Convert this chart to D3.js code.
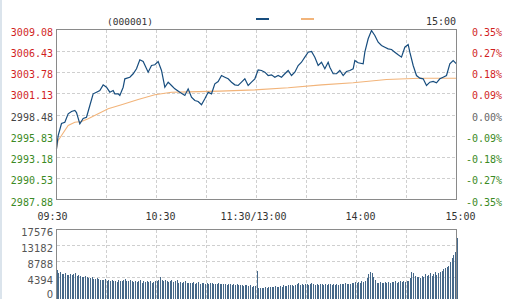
<!DOCTYPE html>
<meta charset="utf-8">
<style>
  body { margin: 0; background: #fff; }
  svg { display: block; }
  .grid line { stroke: #cfcfcf; stroke-dasharray: 3,2; shape-rendering: crispEdges; }
  .frame { fill: none; stroke: #8a8a8a; shape-rendering: crispEdges; }
  .lbl { font-family: "DejaVu Sans Mono", monospace; font-size: 10px; }
</style>
<body>
<svg width="506" height="299"></svg>
<script src="https://cdn.jsdelivr.net/npm/d3@7"></script>
<script>
  // price line, sampled by minute since 09:30 (lunch break removed)
  const priceMinutes = [0,1,3,5,7,9,11,12,14,16,18,20,22,24,26,28,30,32,34,35,37,38,40,41,44,46,48,50,52,55,57,59,61,63,65,67,69,71,74,77,79,
    81,83,85,87,89,91,93,95,97,99,101,103,105,107,109,111,113,115,117,119,121,123,125,127,129,131,133,135,137,139,141,143,145,147,149,151,153,155,157,159,
    161,163,164,166,168,170,172,174,176,178,179,181,184,185,187,189,191,193,195,197,199,201,203,205,207,209,211,212,214,216,218,220,222,224,226,228,230,232,234,236,238,240];
  const prices = [2994.20,2995.86,2997.36,2997.52,2998.57,2998.85,2998.98,2998.73,2997.32,2997.98,2998.14,2999.60,3001.06,3001.26,3001.47,3002.18,3001.88,3001.26,3001.47,3001.06,3001.06,3000.85,3001.88,3002.93,3003.13,3003.56,3004.18,3005.30,3005.09,3003.76,3004.59,3004.68,3005.09,3003.97,3001.88,3002.51,3002.10,3001.68,3001.26,3000.85,3001.68,
    3000.64,3000.23,3000.10,2999.69,3000.44,3001.26,3001.06,3002.31,3002.60,3003.34,3003.13,3002.93,3002.51,3002.18,3002.10,3002.51,3002.93,3002.10,3002.51,3002.93,3004.05,3003.97,3003.76,3003.34,3003.43,3003.13,3003.34,3003.13,3003.56,3003.97,3003.34,3003.76,3004.59,3005.00,3005.63,3006.25,3006.34,3005.63,3004.59,3005.00,
    3004.18,3005.00,3004.38,3003.56,3003.56,3003.97,3003.34,3003.84,3003.97,3004.18,3005.21,3004.93,3004.80,3006.25,3007.92,3008.96,3008.33,3007.50,3007.08,3006.87,3006.67,3006.59,3006.25,3005.92,3005.63,3006.87,3007.21,3006.25,3004.59,3003.34,3003.01,3002.93,3002.10,3002.51,3002.60,3002.43,3002.93,3003.13,3003.34,3004.80,3005.21,3004.80];

  // average price line
  const avgMinutes = [0,1,3,7,11,15,19,25,31,39,49,59,69,79,98,119,139,159,178,198,218,240];
  const avgPrices = [2994.24,2995.24,2995.86,2997.11,2997.52,2997.61,2997.94,2998.57,2999.19,2999.69,3000.35,3000.94,3001.26,3001.30,3001.40,3001.55,3001.81,3002.18,3002.43,3002.84,3003.01,3003.01];

  // volume per minute, 0..240
  const volumes = [
    6500,5600,6000,5400,5300,5500,5200,5100,5400,5000,5300,5500,4800,5200,4700,4600,4500,4900,4400,4300,
    4200,4500,4000,3900,4300,4100,3800,3700,3600,3900,3500,3600,3400,3800,3300,3500,3200,3700,3400,3300,
    3600,4000,3500,3300,3700,3400,3200,3500,3100,3300,3600,3000,3400,3200,3500,3100,3300,3000,3200,3400,
    3300,3800,4400,3700,3500,3600,3300,3200,3500,3800,3100,3300,3600,3000,3200,2900,3100,3300,2800,3000,
    3000,2800,3100,2700,2900,3200,2600,2800,3000,2700,2900,2600,2800,3000,2600,2700,2500,2900,2600,2700,
    2500,2700,2400,2600,2500,2300,2600,2400,2500,2200,2400,2300,2100,2400,2200,2000,2300,1900,2100,2000,
    6200,1500,1400,1600,1500,1700,1600,1800,1700,1900,1800,2000,1900,1800,2100,1900,2200,2000,2100,2300,
    2200,2400,2100,2300,2600,3000,2400,2600,2300,2500,2700,2400,2600,2800,2500,2300,2600,2400,2700,2500,
    2400,2600,2300,2500,2700,2400,2600,2300,2500,2400,2700,2500,2600,2800,2500,2700,2600,2900,2800,3200,
    2900,3100,3000,3300,3200,3500,4200,5400,5900,5700,4500,3600,3000,2800,3100,2900,3000,3200,2900,3100,
    3000,3200,3100,3300,3000,3200,3400,3100,3300,3200,3500,3400,4200,5900,5700,4800,4400,4600,4300,4900,
    4500,5300,4700,5100,5600,4900,5400,5800,5200,5700,6000,6300,6600,7100,7300,7600,8700,9800,10500,11400,15200];

  const prevClose = 2998.48;
  const priceTicks = [3009.08,3006.43,3003.78,3001.13,2998.48,2995.83,2993.18,2990.53,2987.88];
  const pctLabels = ["0.35%","0.27%","0.18%","0.09%","0.00%","-0.09%","-0.18%","-0.27%","-0.35%"];
  const volTicks = [0,4394,8788,13182,17576];
  const timeTicks = [0,60,120,180,240];
  const timeLabels = ["09:30","10:30","11:30/13:00","14:00","15:00"];
  const timeNudge = [-4,4,-3,4,4];

  const svg = d3.select("svg");
  const red = "#d11f1f", green = "#3b8a24";

  svg.append("rect").attr("x", 0).attr("y", 0).attr("width", 2).attr("height", 299).attr("fill", "#dbe4ec");

  const x = d3.scaleLinear().domain([0, 240]).range([56.5, 456.5]);
  const y = d3.scaleLinear().domain([2987.88, 3009.08]).range([199.5, 29.5]);
  const yv = d3.scaleLinear().domain([0, 17576]).range([293.5, 229.5]);

  // ---- main price panel
  const grid = svg.append("g").attr("class", "grid");
  grid.selectAll(".hy").data(priceTicks.slice(1, -1)).enter().append("line")
      .attr("x1", x(0)).attr("x2", x(240))
      .attr("y1", d => Math.round(y(d)) + 0.5).attr("y2", d => Math.round(y(d)) + 0.5);
  grid.selectAll(".vx").data(d3.range(30, 240, 30)).enter().append("line")
      .attr("x1", d => x(d)).attr("x2", d => x(d))
      .attr("y1", y.range()[1]).attr("y2", y.range()[0]);

  const line = d3.line().x(d => x(d[0])).y(d => y(d[1]));
  svg.append("path")
      .datum(d3.zip(avgMinutes, avgPrices))
      .attr("d", line).attr("fill", "none").attr("stroke", "#f2b47a").attr("stroke-width", 1.1);
  svg.append("path")
      .datum(d3.zip(priceMinutes, prices))
      .attr("d", line).attr("fill", "none").attr("stroke", "#174d7e").attr("stroke-width", 1.2);

  svg.append("rect").attr("class", "frame")
      .attr("x", x(0)).attr("y", y.range()[1]).attr("width", x(240) - x(0)).attr("height", y.range()[0] - y.range()[1]);

  const tickColor = v => v > prevClose + 0.001 ? red : (v < prevClose - 0.001 ? green : "#444");
  svg.selectAll(".pl").data(priceTicks).enter().append("text")
      .attr("class", "lbl").attr("text-anchor", "end")
      .attr("x", 53).attr("y", d => y(d) + 6)
      .attr("fill", tickColor)
      .text(d => d.toFixed(2));
  svg.selectAll(".pr").data(priceTicks).enter().append("text")
      .attr("class", "lbl").attr("text-anchor", "end")
      .attr("x", 502).attr("y", d => y(d) + 6)
      .attr("fill", d => d === prevClose ? "#666" : tickColor(d))
      .text((d, i) => pctLabels[i]);

  // header
  svg.append("text").attr("class", "lbl").attr("fill", "#333")
      .attr("x", 130).attr("y", 25).attr("text-anchor", "middle").style("font-size", "9.5px").text("(000001)");
  svg.append("text").attr("class", "lbl").attr("fill", "#333")
      .attr("x", 456).attr("y", 25).attr("text-anchor", "end").text("15:00");
  svg.append("line").attr("x1", 256).attr("x2", 269).attr("y1", 19).attr("y2", 19)
      .attr("stroke", "#174d7e").attr("stroke-width", 2);
  svg.append("line").attr("x1", 301).attr("x2", 314).attr("y1", 19).attr("y2", 19)
      .attr("stroke", "#f2b47a").attr("stroke-width", 2);

  // time axis labels
  svg.selectAll(".tl").data(timeTicks).enter().append("text")
      .attr("class", "lbl").attr("fill", "#333").attr("text-anchor", "middle")
      .attr("x", (d, i) => x(d) + timeNudge[i]).attr("y", 220)
      .text((d, i) => timeLabels[i]);

  // ---- volume panel
  const vgrid = svg.append("g").attr("class", "grid");
  vgrid.selectAll(".hv").data(volTicks.slice(1, -1)).enter().append("line")
      .attr("x1", x(0)).attr("x2", x(240))
      .attr("y1", d => yv(d)).attr("y2", d => yv(d));
  vgrid.selectAll(".vv").data(d3.range(30, 240, 30)).enter().append("line")
      .attr("x1", d => x(d)).attr("x2", d => x(d))
      .attr("y1", yv.range()[1]).attr("y2", 299);

  svg.append("g").attr("shape-rendering", "crispEdges")
    .selectAll("rect").data(volumes).enter().append("rect")
      .attr("x", (d, i) => Math.round(x(i)))
      .attr("y", d => Math.round(yv(d)))
      .attr("width", 1)
      .attr("height", d => 299 - Math.round(yv(d)))
      .attr("fill", "#46698a");

  svg.append("path").attr("class", "frame")
      .attr("d", `M${x(0)},299V${yv.range()[1]}H${x(240)}V299`);

  svg.selectAll(".vl").data(volTicks).enter().append("text")
      .attr("font-family", "DejaVu Sans, sans-serif").attr("font-size", "10px")
      .attr("fill", "#555").attr("text-anchor", "end")
      .attr("x", 53).attr("y", d => Math.min(yv(d) + 6.5, 298))
      .text(d => d);
</script>
</body>
</html>
